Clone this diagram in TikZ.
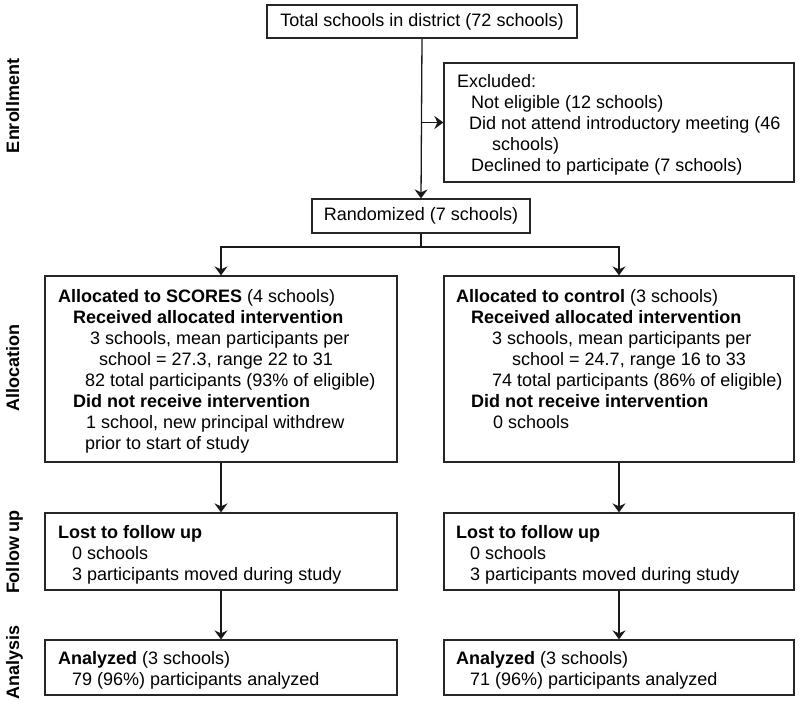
\documentclass[tikz,border=0pt]{standalone}
\usepackage{fontspec}
\setmainfont{Liberation Sans}
\usetikzlibrary{arrows.meta}
\tikzset{
  box/.style={draw=black!85, line width=1.2pt, rectangle, inner sep=0pt},
  txt/.style={anchor=north west, inner sep=0pt, align=left},
  side/.style={rotate=90, anchor=base, inner sep=0pt, font=\fontsize{18}{21}\selectfont\bfseries},
  arr/.style={draw=black!90, line width=1.3pt, -{Stealth[length=9pt,width=13pt,inset=3pt]}},
  ln/.style={draw=black!90, line width=1.3pt},
  every node/.append style={font=\fontsize{18}{21}\selectfont}
}
\begin{document}
\begin{tikzpicture}[x=1pt,y=-1pt]
\useasboundingbox (0,0) rectangle (800,704);
\fill[white] (0,0) rectangle (800,704);

% boxes
\node[box, minimum width=310pt, minimum height=33pt] (total) at (422,21.5) {Total schools in district (72 schools)};
\node[box, minimum width=350pt, minimum height=119pt] (excl) at (619,122.5) {};
\node[box, minimum width=218pt, minimum height=34pt] (rand) at (421,216) {Randomized (7 schools)};
\node[box, minimum width=352pt, minimum height=186pt] (a1) at (221,369) {};
\node[box, minimum width=350pt, minimum height=186pt] (a2) at (619,369) {};
\node[box, minimum width=352pt, minimum height=77pt] (f1) at (221,551.5) {};
\node[box, minimum width=350pt, minimum height=77pt] (f2) at (619,551.5) {};
\node[box, minimum width=352pt, minimum height=55pt] (n1) at (221,667.5) {};
\node[box, minimum width=350pt, minimum height=55pt] (n2) at (619,667.5) {};

% texts
\node[txt] (texcl) at (457,72.8) {\strut Excluded:\\
\hspace*{14pt}Not eligible (12 schools)\\
\hspace*{12pt}Did not attend introductory meeting (46\\
\hspace*{35pt}schools)\\
\hspace*{14pt}Declined to participate (7 schools)};

\node[txt] (ta1) at (58,287.8) {\strut\textbf{Allocated to SCORES} (4 schools)\\
\hspace*{15pt}\textbf{Received allocated intervention}\\
\hspace*{32pt}3 schools, mean participants per\\
\hspace*{41pt}school = 27.3, range 22 to 31\\
\hspace*{27pt}82 total participants (93\% of eligible)\\
\hspace*{15pt}\textbf{Did not receive intervention}\\
\hspace*{28pt}1 school, new principal withdrew\\
\hspace*{27pt}prior to start of study};

\node[txt] (ta2) at (456,287.8) {\strut\textbf{Allocated to control} (3 schools)\\
\hspace*{15pt}\textbf{Received allocated intervention}\\
\hspace*{36pt}3 schools, mean participants per\\
\hspace*{56pt}school = 24.7, range 16 to 33\\
\hspace*{36pt}74 total participants (86\% of eligible)\\
\hspace*{15pt}\textbf{Did not receive intervention}\\
\hspace*{37pt}0 schools};

\node[txt] (tf1) at (58,523.8) {\strut\textbf{Lost to follow up}\\
\hspace*{14pt}0 schools\\
\hspace*{14pt}3 participants moved during study};
\node[txt] (tf2) at (456,523.8) {\strut\textbf{Lost to follow up}\\
\hspace*{14pt}0 schools\\
\hspace*{14pt}3 participants moved during study};

\node[txt] (tn1) at (58,649.8) {\strut\textbf{Analyzed} (3 schools)\\
\hspace*{14pt}79 (96\%) participants analyzed};
\node[txt] (tn2) at (456,649.8) {\strut\textbf{Analyzed} (3 schools)\\
\hspace*{14pt}71 (96\%) participants analyzed};

% side labels
\node[side] (s1) at (19,106) {Enrollment};
\node[side] (s2) at (19,368) {Allocation};
\node[side] (s3) at (19,552) {Follow up};
\node[side] (s4) at (19,662) {Analysis};

% connectors
\draw[arr] (total.south) -- (rand.north);
\draw[arr] (total.south |- excl.west) -- (excl.west);
\coordinate (br) at (421,247);
\draw[ln] (rand.south) -- (br);
\draw[arr] (br) -| (a1.north);
\draw[arr] (br) -| (a2.north);
\draw[arr] (a1.south) -- (f1.north);
\draw[arr] (a2.south) -- (f2.north);
\draw[arr] (f1.south) -- (n1.north);
\draw[arr] (f2.south) -- (n2.north);
\end{tikzpicture}
\end{document}
